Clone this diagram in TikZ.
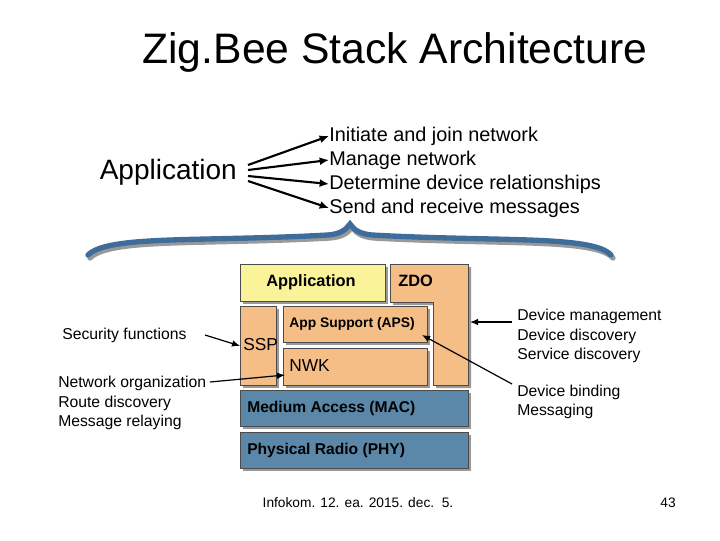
\documentclass[tikz,border=0pt]{standalone}
\usepackage{fontspec}
\setmainfont{Liberation Sans}
\usetikzlibrary{arrows.meta}
\definecolor{yel}{HTML}{FBF39A}
\definecolor{org}{HTML}{F4BE86}
\definecolor{blu}{HTML}{5B88A8}
\definecolor{brc}{HTML}{3E6D9C}
\begin{document}
\begin{tikzpicture}[x=0.75pt,y=-0.75pt,
  box/.style={draw=black!70,line width=0.6pt,anchor=north west,inner sep=0pt},
  shd/.style={fill=black!40},
  lbl/.style={anchor=west,font=\bfseries\fontsize{11.7}{13}\selectfont,inner sep=0pt},
  txt/.style={anchor=west,font=\fontsize{11.8}{13}\selectfont,inner sep=0pt},
  big/.style={anchor=west,font=\fontsize{14.9}{16}\selectfont,inner sep=0pt},
  arr/.style={-{Latex[length=7pt,width=6pt]},line width=1.6pt},
  thin/.style={-{Latex[length=6pt,width=5pt]},line width=0.9pt}]
\useasboundingbox (0,0) rectangle (720,540);
\node (title) at (395,52) {\fontsize{32}{36}\selectfont Zig.Bee Stack Architecture};
\node[anchor=east,font=\fontsize{21}{24}\selectfont,inner sep=0pt] (app) at (237,172) {Application};
\node[big] (t1) at (329,136) {Initiate and join network};
\node[big] (t2) at (329,160) {Manage network};
\node[big] (t3) at (329,184) {Determine device relationships};
\node[big] (t4) at (329,208) {Send and receive messages};
\coordinate (s1) at (248,165);\coordinate (s2) at (248,170);
\coordinate (s3) at (248,176);\coordinate (s4) at (248,181);
\draw[arr] (s1) -- (t1.west);
\draw[arr] (s2) -- (t2.west);
\draw[arr] (s3) -- (t3.west);
\draw[arr] (s4) -- (t4.west);
% brace
\draw[black!40,line width=4pt,line cap=round] (90,258) .. controls (110,238) and (200,245) .. (330,238) .. controls (342,237) and (348,233) .. (352,227) .. controls (356,233) and (362,237) .. (374,238) .. controls (500,245) and (595,238) .. (613,258);
\draw[brc,line width=4pt,line cap=round] (88,255) .. controls (108,235) and (200,242) .. (328,235) .. controls (340,234) and (346,230) .. (350,224) .. controls (354,230) and (360,234) .. (372,235) .. controls (498,242) and (593,235) .. (611,255);
% shadows
\fill[shd] (243,267) rectangle (388,304);
\fill[shd] (393,267) -- (471,267) -- (471,388) -- (436,388) -- (436,305) -- (393,305) -- cycle;
\fill[shd] (243,309) rectangle (279,388);
\fill[shd] (286,309) rectangle (430,345);
\fill[shd] (286,351) rectangle (430,388);
\fill[shd] (243,393) rectangle (471,429);
\fill[shd] (243,435) rectangle (471,471);
% boxes
\node[box,fill=yel,minimum width=145*0.75pt,minimum height=37*0.75pt] (appb) at (240,264) {};
\node[font=\bfseries\fontsize{12.3}{13}\selectfont] at (311,282) {Application};
\draw[black!70,line width=0.6pt,fill=org] (390,264) -- (468,264) -- (468,385) -- (433,385) -- (433,302) -- (390,302) -- cycle;
\node[txt,font=\bfseries\fontsize{12.3}{13}\selectfont] (zdo) at (398,281) {ZDO};
\coordinate (zdoe) at (470,322);
\node[box,fill=org,minimum width=36*0.75pt,minimum height=79*0.75pt] (ssp) at (240,306) {};
\node[txt,font=\fontsize{13}{13}\selectfont] at (243,345) {SSP};
\node[box,fill=org,minimum width=144*0.75pt,minimum height=36*0.75pt] (aps) at (283,306) {};
\node[lbl,font=\bfseries\fontsize{10.4}{11}\selectfont] at (289,324) {App Support (APS)};
\node[box,fill=org,minimum width=144*0.75pt,minimum height=37*0.75pt] (nwk) at (283,348) {};
\node[txt,font=\fontsize{13}{13}\selectfont] (nwkt) at (289,366) {NWK};
\node[box,fill=blu,minimum width=228*0.75pt,minimum height=36*0.75pt] (mac) at (240,390) {};
\node[lbl] at (247,408) {Medium Access (MAC)};
\node[box,fill=blu,minimum width=228*0.75pt,minimum height=36*0.75pt] (phy) at (240,432) {};
\node[lbl] at (247,450) {Physical Radio (PHY)};
% left texts
\node[txt] (sec) at (62,335) {Security functions};
\node[txt,align=left,font=\fontsize{11.8}{14.8}\selectfont] (net) at (58,403) {Network organization\\Route discovery\\Message relaying};
\coordinate (secs) at (205,335);
\draw[thin] (secs) -- (ssp.west);
\coordinate (nets) at (210,382);\coordinate (nwke) at (285,375);
\draw[thin] (nets) -- (nwke);
% right texts
\node[txt,align=left,font=\fontsize{11.8}{14.5}\selectfont] (dev) at (517,336) {Device management\\Device discovery\\Service discovery};
\node[txt,align=left,font=\fontsize{11.8}{14.5}\selectfont] (bind) at (517,402) {Device binding\\Messaging};
\coordinate (devs) at (512,322);
\draw[thin] (devs) -- (zdoe);
\coordinate (binds) at (512,384);\coordinate (apse) at (422,335);
\draw[thin] (binds) -- (apse);
% footer
\node[font=\fontsize{10.3}{11}\selectfont] (foot) at (358,503) {Infokom. 12. ea. 2015. dec.\ \ 5.};
\node[font=\fontsize{10.3}{11}\selectfont] (pg) at (668,503) {43};
\end{tikzpicture}
\end{document}
